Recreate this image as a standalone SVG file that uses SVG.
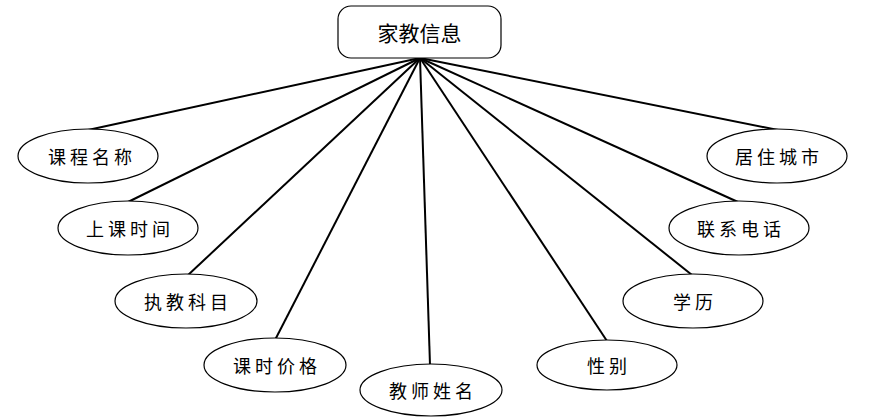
<svg xmlns="http://www.w3.org/2000/svg" width="880" height="418" viewBox="0 0 880 418">
<style>
.e{fill:#fff;stroke:#000;stroke-width:1.2}
.t{font-family:"Noto Sans CJK SC","Noto Sans",sans-serif;font-size:18px;fill:#000;text-anchor:middle;dominant-baseline:central;letter-spacing:4px}
.c{stroke:#000;stroke-width:2;fill:none}
</style>
<rect width="880" height="418" fill="#fff"/>
<g id="connectors">
<line class="c" x1="420" y1="58" x2="88" y2="130"/>
<line class="c" x1="420" y1="58" x2="128" y2="202"/>
<line class="c" x1="420" y1="58" x2="187" y2="276"/>
<line class="c" x1="420" y1="58" x2="275" y2="340"/>
<line class="c" x1="420" y1="58" x2="430" y2="365"/>
<line class="c" x1="420" y1="58" x2="607" y2="341"/>
<line class="c" x1="420" y1="58" x2="692" y2="275"/>
<line class="c" x1="420" y1="58" x2="738" y2="202"/>
<line class="c" x1="420" y1="58" x2="778" y2="130"/>
</g>
<g id="root">
<rect x="338" y="6" width="163" height="52" rx="13" ry="13" fill="#fff" stroke="#000" stroke-width="1.2"/>
<text x="419.5" y="32" class="t" style="font-size:21px;letter-spacing:0">家教信息</text>
</g>
<g id="n1"><ellipse class="e" cx="88" cy="156" rx="70" ry="27"/><text class="t" x="92" y="156">课程名称</text></g>
<g id="n2"><ellipse class="e" cx="128" cy="228" rx="70" ry="27"/><text class="t" x="130" y="228">上课时间</text></g>
<g id="n3"><ellipse class="e" cx="186" cy="301" rx="71" ry="27"/><text class="t" x="188" y="301">执教科目</text></g>
<g id="n4"><ellipse class="e" cx="275" cy="365" rx="71" ry="27"/><text class="t" x="277" y="365">课时价格</text></g>
<g id="n5"><ellipse class="e" cx="431" cy="390" rx="71" ry="26"/><text class="t" x="433" y="390">教师姓名</text></g>
<g id="n6"><ellipse class="e" cx="607" cy="365" rx="70" ry="25"/><text class="t" x="609" y="365">性别</text></g>
<g id="n7"><ellipse class="e" cx="693" cy="301" rx="70" ry="27"/><text class="t" x="695" y="301">学历</text></g>
<g id="n8"><ellipse class="e" cx="739" cy="228" rx="70" ry="27"/><text class="t" x="741" y="228">联系电话</text></g>
<g id="n9"><ellipse class="e" cx="777" cy="156" rx="70" ry="27"/><text class="t" x="779" y="156">居住城市</text></g>
</svg>
